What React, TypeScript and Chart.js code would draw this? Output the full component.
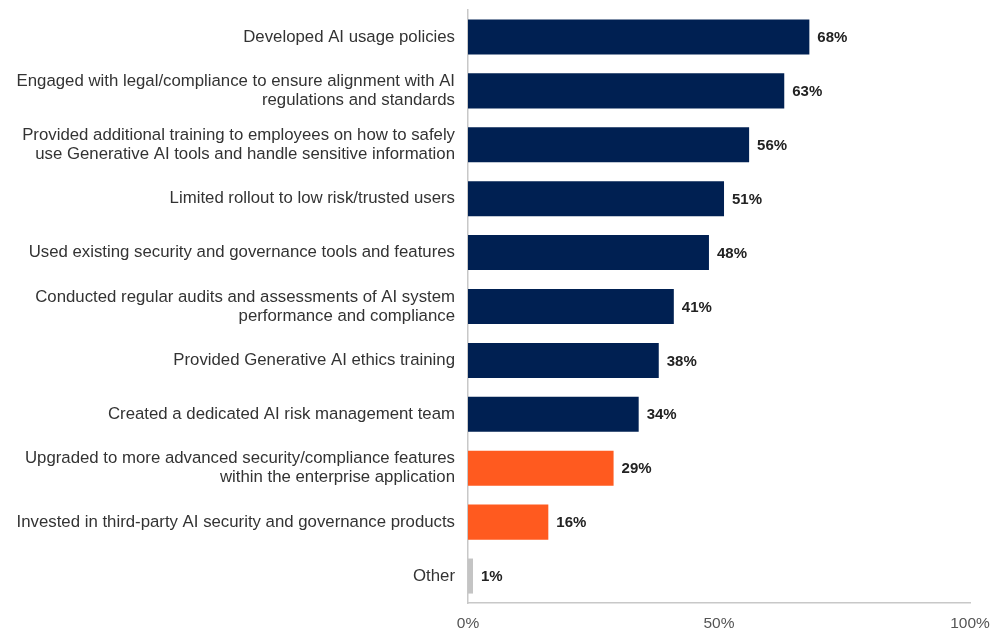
import React, { useEffect, useRef } from "react";
import { Chart, registerables } from "chart.js";

Chart.register(...registerables);

const categories: (string | string[])[] = [
  "Developed AI usage policies",
  ["Engaged with legal/compliance to ensure alignment with AI", "regulations and standards"],
  ["Provided additional training to employees on how to safely", "use Generative AI tools and handle sensitive information"],
  "Limited rollout to low risk/trusted users",
  "Used existing security and governance tools and features",
  ["Conducted regular audits and assessments of AI system", "performance and compliance"],
  "Provided Generative AI ethics training",
  "Created a dedicated AI risk management team",
  ["Upgraded to more advanced security/compliance features", "within the enterprise application"],
  "Invested in third-party AI security and governance products",
  "Other",
];

const values: number[] = [68, 63, 56, 51, 48, 41, 38, 34, 29, 16, 1];

const xTicks: number[] = [0, 50, 100];

const NAVY = "#002052";
const ORANGE = "#ff5a1f";
const GREY = "#c4c4c4";
const barColors: string[] = [NAVY, NAVY, NAVY, NAVY, NAVY, NAVY, NAVY, NAVY, ORANGE, ORANGE, GREY];

const FONT = "'Liberation Sans', Arial, Helvetica, sans-serif";

const valueLabels = {
  id: "valueLabels",
  afterDatasetsDraw(chart: any) {
    const ctx = chart.ctx;
    const meta = chart.getDatasetMeta(0);
    ctx.save();
    ctx.font = `bold 15px ${FONT}`;
    ctx.fillStyle = "#222222";
    ctx.textAlign = "left";
    ctx.textBaseline = "middle";
    meta.data.forEach((bar: any, i: number) => {
      ctx.fillText(`${values[i]}%`, bar.x + 8, bar.y + 1);
    });
    ctx.restore();
  },
};

export default function App() {
  const ref = useRef<HTMLCanvasElement | null>(null);

  useEffect(() => {
    if (!ref.current) return;
    const chart = new Chart(ref.current, {
      type: "bar",
      data: {
        labels: categories,
        datasets: [
          {
            data: values,
            backgroundColor: barColors,
            borderWidth: 0,
            barPercentage: 0.65,
            categoryPercentage: 1,
          },
        ],
      },
      options: {
        indexAxis: "y",
        responsive: false,
        animation: false,
        layout: { padding: { top: 10, right: 21, left: 0, bottom: 0 } },
        plugins: {
          legend: { display: false },
          tooltip: { enabled: false },
        },
        scales: {
          x: {
            min: 0,
            max: 100,
            afterBuildTicks(scale: any) {
              scale.ticks = xTicks.map((v) => ({ value: v }));
            },
            afterFit(scale: any) {
              scale.height = 27;
              scale.paddingLeft = 0;
              scale.paddingRight = 0;
            },
            grid: { display: false, drawTicks: false },
            border: { display: true, color: "#c8c8c8", width: 1.5 },
            ticks: {
              padding: 11,
              color: "#555555",
              font: { family: FONT, size: 15.5 },
              callback: (v: any) => `${v}%`,
              maxRotation: 0,
            },
          },
          y: {
            afterFit(scale: any) {
              scale.width = 468;
              scale.paddingTop = 0;
              scale.paddingBottom = 0;
            },
            grid: { display: false, drawTicks: false },
            border: { display: true, color: "#c8c8c8", width: 1.5 },
            ticks: {
              autoSkip: false,
              padding: 13,
              color: "#333333",
              font: { family: FONT, size: 16.8, lineHeight: 1.13 },
            },
          },
        },
      },
      plugins: [valueLabels],
    });
    return () => chart.destroy();
  }, []);

  return (
    <div style={{ position: "fixed", left: 0, top: 0, width: 991, height: 630, background: "#fff" }}>
      <canvas ref={ref} width={991} height={630} />
    </div>
  );
}
